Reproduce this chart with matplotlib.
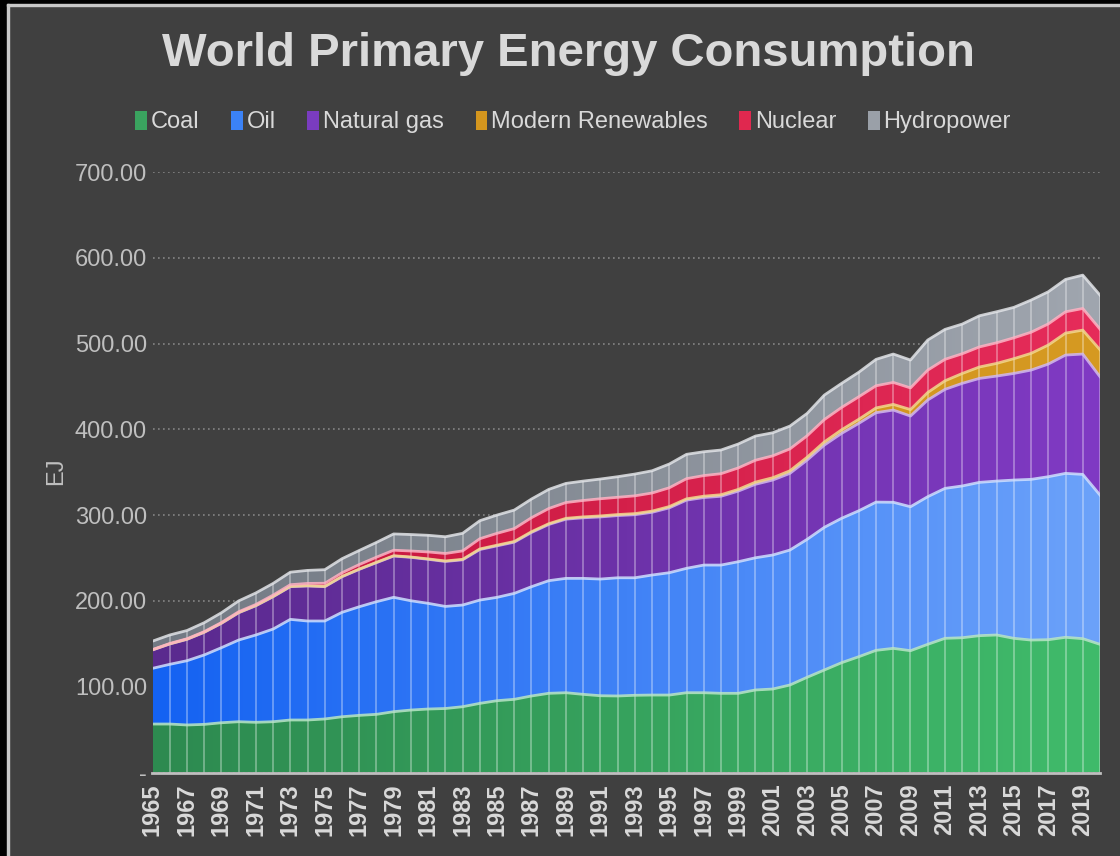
import numpy as np
import matplotlib.pyplot as plt
from matplotlib.colors import to_rgb
from matplotlib.patches import Patch, Rectangle

# World primary energy consumption, EJ
years = list(range(1965, 2021))

coal = [56.5, 56.5, 55.4, 56.1, 58.0, 59.2, 58.5, 59.2, 61.2, 61.2,
        62.4, 65.0, 66.6, 67.8, 70.9, 72.8, 74.0, 74.6, 76.7, 80.6,
        83.7, 85.3, 89.2, 92.3, 93.0, 91.1, 89.5, 89.2, 90.0, 90.3,
        90.3, 93.0, 93.0, 92.3, 92.3, 96.2, 97.3, 102.0, 111.0, 119.5,
        128.0, 135.0, 142.4, 144.7, 142.0, 149.4, 156.4, 157.1, 159.5, 160.3,
        156.4, 154.4, 154.8, 157.6, 156.0, 149.4]

oil = [64.9, 69.6, 74.9, 80.9, 87.5, 95.2, 101.8, 108.0, 117.3, 115.4,
       114.2, 121.7, 126.6, 131.3, 133.3, 127.4, 123.2, 119.0, 118.5, 120.4,
       120.5, 123.5, 127.4, 131.3, 133.3, 135.2, 136.0, 137.8, 137.0, 139.9,
       142.6, 145.0, 148.8, 149.5, 153.4, 154.1, 156.2, 157.3, 160.8, 166.3,
       168.3, 170.1, 172.8, 170.3, 167.8, 172.1, 174.8, 176.9, 178.7, 179.4,
       184.5, 187.3, 190.0, 191.1, 191.5, 174.0]

gas = [21.4, 23.7, 24.9, 26.4, 28.4, 31.8, 34.1, 37.7, 38.1, 40.8,
       40.0, 41.5, 43.6, 45.5, 48.1, 50.6, 51.3, 52.4, 52.7, 58.9,
       60.0, 59.7, 63.2, 65.5, 69.0, 70.6, 72.4, 72.5, 73.5, 73.1,
       75.6, 79.5, 78.7, 80.2, 82.3, 85.7, 87.4, 89.4, 92.4, 95.9,
       99.0, 101.9, 104.2, 107.5, 105.7, 112.7, 115.4, 119.6, 121.2, 122.4,
       124.3, 127.4, 131.3, 137.9, 140.3, 137.9]

renewables = [0.2, 0.2, 0.2, 0.2, 0.2, 0.3, 0.3, 0.3, 0.3, 0.3,
              0.3, 0.3, 0.3, 0.4, 0.4, 0.4, 0.5, 0.6, 0.6, 0.7,
              0.8, 0.8, 0.9, 0.9, 1.0, 1.1, 1.2, 1.2, 1.3, 1.4,
              1.5, 1.5, 1.6, 1.8, 2.0, 2.5, 2.7, 3.0, 3.3, 3.7,
              4.2, 4.8, 5.6, 6.6, 7.6, 8.8, 10.0, 11.5, 13.3, 14.8,
              17.2, 19.5, 22.2, 25.6, 27.9, 31.5]

nuclear = [0.3, 0.4, 0.5, 0.6, 0.7, 0.9, 1.2, 1.6, 2.0, 2.7,
           3.7, 4.3, 5.3, 6.0, 6.4, 7.0, 8.1, 8.7, 9.8, 11.9,
           13.8, 15.0, 16.3, 17.7, 18.4, 19.1, 20.0, 20.1, 20.7, 21.1,
           21.9, 23.5, 24.0, 24.5, 25.0, 25.5, 25.5, 25.5, 25.0, 26.0,
           26.0, 26.2, 25.8, 25.6, 25.2, 26.0, 25.0, 23.0, 23.4, 24.0,
           24.3, 24.6, 24.6, 24.8, 25.2, 24.0]

hydro = [9.8, 9.9, 9.6, 10.4, 11.4, 12.6, 13.4, 13.6, 14.6, 15.2,
         15.8, 16.4, 16.4, 17.2, 19.0, 19.2, 19.4, 19.5, 20.5, 21.0,
         21.3, 21.6, 21.8, 22.3, 22.3, 22.6, 23.0, 24.0, 25.4, 25.9,
         27.7, 28.4, 27.8, 27.6, 27.9, 28.2, 26.9, 26.6, 26.1, 28.6,
         28.1, 28.6, 30.8, 33.1, 32.5, 35.1, 34.9, 34.6, 36.3, 36.2,
         35.5, 37.5, 37.5, 37.8, 38.9, 39.7]

series = ['Coal', 'Oil', 'Natural gas', 'Modern Renewables', 'Nuclear', 'Hydropower']
# left colour, right colour, top edge colour, legend colour
styles = [
    ('#2d8a50', '#40bb6b', '#b9e6c6', '#3aa35f'),
    ('#1462f2', '#6ca2fa', '#cfe0ff', '#3b82f6'),
    ('#5a2a8e', '#803ac4', '#d2b8f2', '#7a3cc0'),
    ('#c88a18', '#d69a22', '#f3d98e', '#d4961e'),
    ('#c2143a', '#e62c5a', '#ffb3c4', '#e0284f'),
    ('#727983', '#a0a6af', '#e2e4e8', '#9aa0a8'),
]

W, H = 1120, 856
bg = '#404040'
plt.rcParams['font.family'] = ['Liberation Sans', 'DejaVu Sans']

fig = plt.figure(figsize=(W / 100, H / 100), dpi=100, facecolor=bg)
ax = fig.add_axes([152.5 / W, (H - 772.5) / H, (1100 - 152.5) / W, (772.5 - 172) / H])
ax.set_facecolor(bg)

x = np.array(years, dtype=float)
data = [coal, oil, gas, renewables, nuclear, hydro]
base = np.zeros(len(x))
for vals, (cl, cr, edge, _) in zip(data, styles):
    top = base + np.array(vals)
    poly = ax.fill_between(x, base, top, facecolor='none', edgecolor='none')
    t = np.linspace(0, 1, 256)[None, :, None]
    c0, c1 = np.array(to_rgb(cl)), np.array(to_rgb(cr))
    img = c0 + (c1 - c0) * t
    im = ax.imshow(img, extent=[x[0], x[-1], 0, 700], aspect='auto',
                   origin='lower', zorder=2, interpolation='bilinear')
    im.set_clip_path(poly.get_paths()[0], ax.transData)
    ax.plot(x, top, color=edge, lw=2.0, alpha=0.85, zorder=4, solid_joinstyle='round')
    base = top

# thin drop lines at every year
ax.vlines(x, 0, base, colors='white', alpha=0.35, lw=1.3, zorder=3)

ax.set_xlim(x[0], x[-1])
ax.set_ylim(0, 700)

ax.set_yticks(range(0, 701, 100))
ax.set_yticklabels(['-' if v == 0 else f'{v:.2f}' for v in range(0, 701, 100)])
ax.yaxis.grid(True, ls=(0, (1, 2)), color='#858585', lw=1.2)
ax.set_axisbelow(True)
ax.tick_params(axis='y', length=0, pad=4, labelsize=17, labelcolor='#bfbfbf')

ax.set_xticks(years[::2])
ax.set_xticklabels([str(y) for y in years[::2]], rotation=90, fontweight='bold')
ax.tick_params(axis='x', length=0, pad=8, labelsize=17, labelcolor='#d9d9d9')

for s in ['top', 'right', 'left']:
    ax.spines[s].set_visible(False)
ax.spines['bottom'].set_color('#bfbfbf')
ax.spines['bottom'].set_linewidth(2)
ax.spines['bottom'].set_zorder(5)

fig.text(568 / W, 1 - 54 / H, 'World Primary Energy Consumption', ha='center', va='center',
         fontsize=34, fontweight='bold', color='#d9d9d9')
fig.text(56 / W, 1 - 471 / H, 'EJ', rotation=90, ha='center', va='center',
         fontsize=17, color='#bfbfbf')

handles = [Patch(facecolor=s[3], edgecolor='none') for s in styles]
fig.legend(handles, series, loc='center', bbox_to_anchor=(573 / W, 1 - 122 / H), ncol=6,
           frameon=False, fontsize=17, labelcolor='#d9d9d9', handlelength=0.5,
           handleheight=0.9, handletextpad=0.15, columnspacing=1.35)

# screenshot frame: black strip on the left and top with a light inner edge
fig.add_artist(Rectangle((0, 0), 7 / W, 1, transform=fig.transFigure, color='black', zorder=10))
fig.add_artist(Rectangle((0, 1 - 4 / H), 1, 4 / H, transform=fig.transFigure, color='black', zorder=10))
fig.add_artist(Rectangle((7 / W, 0), 1.5 / W, 1 - 4 / H, transform=fig.transFigure, color='#c8c8c8', zorder=10))
fig.add_artist(Rectangle((7 / W, 1 - 5.5 / H), 1, 1.5 / H, transform=fig.transFigure, color='#c8c8c8', zorder=10))

fig.savefig('out.png', dpi=100, facecolor=bg)
